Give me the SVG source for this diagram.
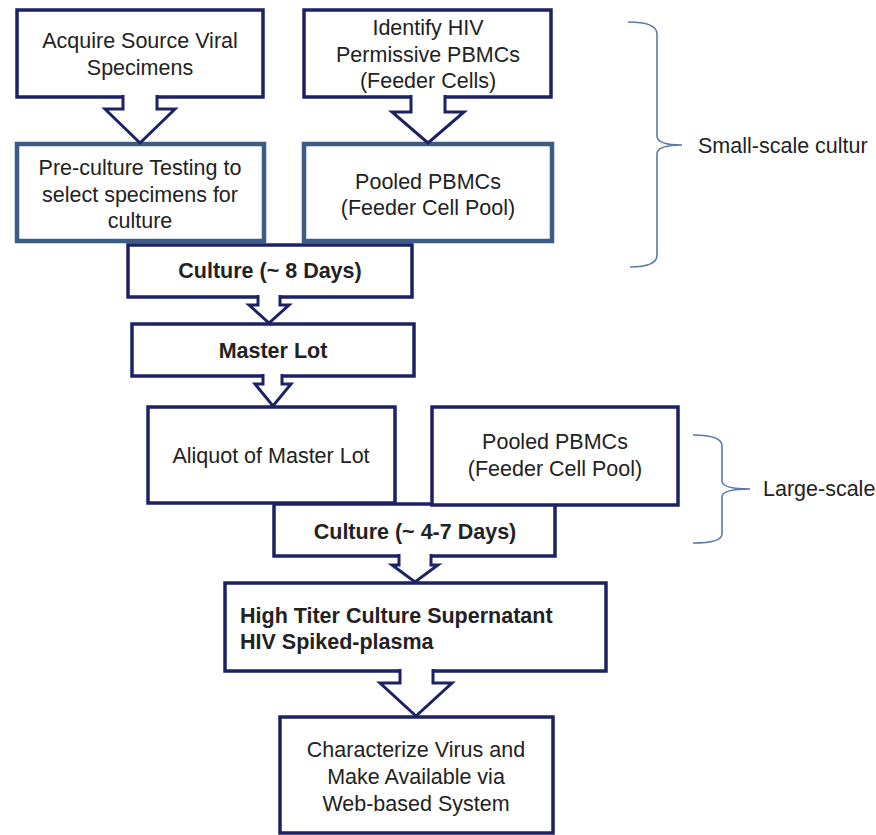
<svg xmlns="http://www.w3.org/2000/svg" width="876" height="835" viewBox="0 0 876 835">
  <style>
    .box { fill: #ffffff; stroke: #1c2263; stroke-width: 3.5; }
    .box-alt { fill: #ffffff; stroke: #3d5b84; stroke-width: 4.5; }
    .arrow { fill: #ffffff; stroke: #1c2263; stroke-width: 3; stroke-linejoin: miter; }
    .brace { fill: none; stroke: #5b79a6; stroke-width: 1.6; }
    .t { font-family: "Liberation Sans", Arial, sans-serif; font-size: 21.5px; fill: #222222; text-anchor: middle; }
    .b { font-weight: bold; }
    .l { text-anchor: start; }
    .note { font-family: "Liberation Sans", Arial, sans-serif; font-size: 21.5px; fill: #222222; }
  </style>
  <rect width="876" height="835" fill="#ffffff"/>

  <!-- Small-scale culture stage -->
  <g id="acquire">
    <rect class="box" x="17" y="10" width="246" height="87"/>
    <text class="t" x="140" y="48">Acquire Source Viral</text>
    <text class="t" x="140" y="75">Specimens</text>
  </g>
  <g id="identify">
    <rect class="box" x="304" y="10" width="247" height="87"/>
    <text class="t" x="428" y="35">Identify HIV</text>
    <text class="t" x="428" y="62">Permissive PBMCs</text>
    <text class="t" x="428" y="88">(Feeder Cells)</text>
  </g>
  <g id="preculture">
    <rect class="box-alt" x="17" y="144" width="247" height="97"/>
    <text class="t" x="140" y="175">Pre-culture Testing to</text>
    <text class="t" x="140" y="202">select specimens for</text>
    <text class="t" x="140" y="228">culture</text>
  </g>
  <g id="pool-small">
    <rect class="box-alt" x="304" y="144" width="248" height="97"/>
    <text class="t" x="428" y="189">Pooled PBMCs</text>
    <text class="t" x="428" y="215">(Feeder Cell Pool)</text>
  </g>
  <g id="culture-8">
    <rect class="box" x="128" y="245" width="284" height="52"/>
    <text class="t b" x="270" y="278">Culture (~ 8 Days)</text>
  </g>
  <g id="master-lot">
    <rect class="box" x="132" y="324" width="282" height="52"/>
    <text class="t b" x="273" y="358">Master Lot</text>
  </g>

  <!-- Large-scale culture stage -->
  <g id="culture-4-7">
    <rect class="box" x="274" y="504" width="281" height="52"/>
    <text class="t b" x="415" y="539">Culture (~ 4-7 Days)</text>
  </g>
  <g id="aliquot">
    <rect class="box" x="148" y="407" width="247" height="96"/>
    <text class="t" x="271" y="463">Aliquot of Master Lot</text>
  </g>
  <g id="pool-large">
    <rect class="box" x="432" y="407" width="246" height="98"/>
    <text class="t" x="555" y="449">Pooled PBMCs</text>
    <text class="t" x="555" y="476">(Feeder Cell Pool)</text>
  </g>
  <g id="supernatant">
    <rect class="box" x="225" y="583" width="381" height="88"/>
    <text class="t b l" x="240" y="623">High Titer Culture Supernatant</text>
    <text class="t b l" x="240" y="649">HIV Spiked-plasma</text>
  </g>
  <g id="characterize">
    <rect class="box" x="280" y="717" width="273" height="116"/>
    <text class="t" x="416" y="757">Characterize Virus and</text>
    <text class="t" x="416" y="784">Make Available via</text>
    <text class="t" x="416" y="811">Web-based System</text>
  </g>

  <!-- Block arrows, open at the top so the shaft runs into the box above -->
  <g id="connectors">
    <path class="arrow" d="M123,95 L123,109 L105,109 L140,143 L175,109 L157,109 L157,95"/>
    <path class="arrow" d="M411,95 L411,112 L392,112 L428,143 L464,112 L445,112 L445,95"/>
    <path class="arrow" d="M258,295 L258,305 L249,305 L269,323 L289,305 L280,305 L280,295"/>
    <path class="arrow" d="M263,374 L263,384 L255,384 L273,406 L291,384 L282,384 L282,374"/>
    <path class="arrow" d="M399,554 L399,565 L392,565 L415,582 L438,565 L431,565 L431,554"/>
    <path class="arrow" d="M400,669 L400,683 L380,683 L416,716 L452,683 L433,683 L433,669"/>
  </g>

  <!-- Stage brackets -->
  <g id="small-scale">
    <path class="brace" d="M628,22 Q657,22 657,34 L657,136 Q657,145 682,145 Q657,145 657,154 L657,255 Q657,267 630,267"/>
    <text class="note" x="698" y="153">Small-scale cultur</text>
  </g>
  <g id="large-scale">
    <path class="brace" d="M693,435 Q722,435 722,446 L722,481 Q722,489 750,489 Q722,489 722,497 L722,534 Q722,543 693,543"/>
    <text class="note" x="763" y="496">Large-scale</text>
  </g>
</svg>
